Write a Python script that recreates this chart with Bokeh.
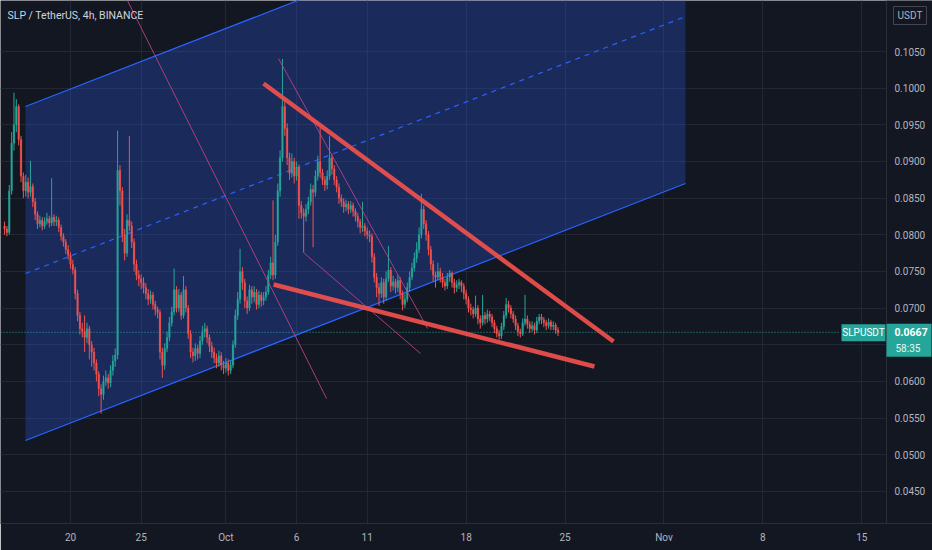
from bokeh.plotting import figure
from bokeh.models import Range1d, FixedTicker, Label, ColumnDataSource
from bokeh.core.properties import value
from bokeh.embed import file_html
from bokeh.resources import INLINE

# ---------------- data (prices in units of 0.0001 USDT) ----------------
# time axis: days since 2021-09-01 00:00; 4h candles
start_day = 14 + 8 / 24          # first candle: Sep 15, 08:00
bar_days = 4 / 24
first_open = 812
close = [808, 803, 860, 925, 950, 975, 930, 880, 860, 872,
         858, 866, 845, 828, 815, 820, 812, 818, 822, 816,
         824, 818, 820, 810, 798, 790, 780, 772, 760, 752,
         720, 690, 672, 668, 660, 672, 650, 640, 625, 610,
         590, 582, 600, 605, 598, 615, 628, 636, 888, 860,
         800, 775, 820, 812, 790, 760, 745, 740, 735, 728,
         720, 712, 718, 705, 698, 694, 640, 622, 645, 660,
         680, 695, 725, 700, 718, 690, 725, 700, 665, 640,
         635, 645, 638, 655, 668, 672, 660, 648, 640, 632,
         625, 635, 622, 618, 625, 615, 622, 650, 690, 712,
         750, 735, 710, 700, 725, 715, 722, 705, 718, 710,
         715, 722, 745, 762, 745, 790, 860, 905, 975, 945,
         905, 884, 900, 880, 892, 840, 830, 825, 835, 845,
         862, 858, 880, 900, 885, 875, 868, 880, 905, 890,
         875, 865, 850, 845, 838, 842, 835, 840, 832, 825,
         818, 810, 812, 805, 800, 798, 770, 742, 728, 720,
         735, 715, 740, 752, 730, 736, 728, 738, 720, 705,
         712, 728, 742, 755, 768, 780, 800, 835, 815, 800,
         780, 760, 745, 742, 750, 742, 735, 730, 742, 748,
         735, 728, 732, 735, 730, 720, 712, 700, 698, 692,
         700, 685, 680, 690, 685, 692, 688, 680, 672, 665,
         662, 675, 690, 705, 700, 692, 685, 676, 668, 665,
         680, 685, 678, 672, 676, 670, 682, 688, 684, 680,
         676, 681, 675, 677, 670, 667]
high = [818, 812, 868, 940, 994, 985, 978, 935, 885, 882,
        878, 901, 870, 850, 832, 826, 824, 824, 830, 826,
        877, 828, 826, 824, 814, 802, 794, 786, 776, 766,
        756, 725, 695, 680, 690, 680, 676, 655, 646, 630,
        614, 596, 608, 615, 610, 622, 636, 645, 942, 895,
        865, 808, 828, 935, 818, 795, 766, 752, 746, 742,
        734, 726, 724, 722, 710, 702, 698, 646, 652, 668,
        688, 702, 754, 730, 726, 722, 744, 730, 704, 670,
        646, 652, 650, 662, 676, 680, 676, 664, 654, 646,
        638, 642, 640, 628, 632, 630, 628, 656, 698, 722,
        781, 756, 740, 716, 732, 730, 730, 726, 724, 722,
        722, 730, 752, 770, 847, 800, 870, 915, 1040, 985,
        952, 912, 911, 905, 900, 896, 846, 836, 842, 852,
        870, 868, 888, 908, 946, 890, 880, 888, 935, 910,
        895, 880, 870, 855, 850, 848, 846, 846, 844, 836,
        830, 822, 845, 816, 810, 806, 802, 775, 748, 734,
        742, 740, 750, 785, 756, 744, 740, 745, 742, 724,
        720, 735, 750, 762, 776, 790, 810, 856, 840, 820,
        805, 785, 765, 750, 762, 755, 748, 740, 748, 752,
        750, 740, 738, 740, 738, 734, 725, 716, 706, 702,
        717, 704, 690, 718, 695, 698, 696, 692, 684, 676,
        670, 680, 696, 714, 710, 704, 696, 690, 680, 672,
        686, 718, 690, 682, 682, 680, 688, 692, 692, 688,
        684, 686, 684, 682, 680, 674]
low = [800, 798, 800, 855, 915, 940, 922, 872, 850, 852,
       850, 852, 838, 820, 808, 810, 806, 808, 814, 810,
       812, 812, 812, 804, 792, 784, 774, 766, 754, 746,
       712, 682, 664, 660, 640, 652, 630, 620, 615, 600,
       580, 556, 575, 594, 590, 592, 608, 620, 630, 840,
       790, 765, 770, 805, 782, 750, 738, 730, 726, 720,
       712, 704, 706, 698, 690, 686, 630, 605, 616, 640,
       655, 675, 690, 694, 695, 684, 686, 694, 658, 632,
       626, 628, 630, 632, 650, 660, 652, 640, 632, 625,
       618, 620, 615, 610, 612, 608, 610, 618, 646, 684,
       706, 725, 700, 692, 696, 706, 708, 698, 700, 702,
       704, 710, 718, 740, 738, 740, 785, 852, 900, 935,
       895, 875, 878, 870, 874, 822, 822, 776, 818, 828,
       840, 783, 852, 874, 878, 868, 860, 862, 875, 882,
       868, 858, 842, 838, 830, 832, 828, 830, 825, 818,
       810, 802, 804, 798, 794, 790, 762, 735, 715, 703,
       714, 706, 710, 736, 722, 724, 720, 722, 712, 697,
       700, 708, 722, 738, 750, 762, 775, 795, 808, 792,
       772, 752, 736, 728, 738, 735, 728, 724, 726, 736,
       728, 720, 722, 726, 722, 712, 705, 694, 690, 686,
       688, 678, 672, 676, 678, 680, 682, 674, 666, 660,
       657, 658, 670, 686, 694, 686, 680, 670, 662, 660,
       662, 676, 672, 666, 668, 664, 666, 678, 678, 674,
       670, 672, 670, 670, 665, 662]
price_unit = 1e-4
last_price = 0.0667
last_price_text = "0.0667"
countdown_text = "58:35"
symbol_text = "SLPUSDT"
currency_text = "USDT"
title_text = "SLP / TetherUS, 4h, BINANCE"

x_ticks = [19, 24, 30, 35, 40, 47, 54, 61, 68, 75]
x_labels = ["20", "25", "Oct", "6", "11", "18", "25", "Nov", "8", "15"]
y_ticks = [0.0450, 0.0500, 0.0550, 0.0600, 0.0650, 0.0700, 0.0750,
           0.0800, 0.0850, 0.0900, 0.0950, 0.1000, 0.1050]
y_labels = ["0.0450", "0.0500", "0.0550", "0.0600", "0.0650", "0.0700", "0.0750",
            "0.0800", "0.0850", "0.0900", "0.0950", "0.1000", "0.1050"]

# drawings (anchor points: day, price)
channel_x = [15.815, 62.52]
channel_upper = [0.09750, 0.13255]
channel_mid = [0.07472, 0.10977]
channel_lower = [0.05194, 0.08700]
wedge_upper_x, wedge_upper_y = [32.66, 57.43], [0.10064, 0.06544]
wedge_lower_x, wedge_lower_y = [33.37, 56.08], [0.07322, 0.06203]
trend_a_x, trend_a_y = [23.03, 37.12], [0.11196, 0.05767]
trend_b_x, trend_b_y = [33.72, 44.27], [0.10405, 0.06722]
trend_c_x, trend_c_y = [35.49, 43.77], [0.07758, 0.06381]

# ---------------- layout / style ----------------
BG = "#131722"
UP = "#26a69a"
DOWN = "#ef5350"
TEXT = "#b2b5be"
FONT = "Roboto"
W, H = 932, 550
FRAME_H = 523
x_lo, x_hi = 14.046, 80.005
y_lo, y_hi = 0.04062, 0.11196
day_per_px = (x_hi - x_lo) / W
price_per_px = (y_hi - y_lo) / FRAME_H
axis_x = x_lo + 886 * day_per_px            # left edge of the price scale


def px_x(px):
    return x_lo + px * day_per_px


def px_dy(px):
    return px * price_per_px


p = figure(width=W, height=H, x_range=Range1d(x_lo, x_hi), y_range=Range1d(y_lo, y_hi),
           output_backend="svg", toolbar_location=None, y_axis_location=None, min_border=0)
p.min_border_left = 0
p.min_border_top = 0
p.min_border_right = 0
p.min_border_bottom = H - FRAME_H
p.background_fill_color = BG
p.border_fill_color = BG
p.outline_line_color = None

xa = p.xaxis[0]
xa.ticker = FixedTicker(ticks=x_ticks)
xa.major_label_overrides = {t: l for t, l in zip(x_ticks, x_labels)}
xa.axis_line_color = "#2a2e39"
xa.major_tick_line_color = None
xa.minor_tick_line_color = None
xa.major_tick_out = 0
xa.major_tick_in = 0
xa.major_label_text_color = TEXT
xa.major_label_text_font = FONT
xa.major_label_text_font_size = "10px"
xa.major_label_standoff = 8
p.xgrid.grid_line_color = "#232733"
p.ygrid[0].ticker = FixedTicker(ticks=y_ticks)
p.ygrid.grid_line_color = "#232733"

# channel
p.patch(x=[channel_x[0], channel_x[1], channel_x[1], channel_x[0]],
        y=[channel_upper[0], channel_upper[1], channel_lower[1], channel_lower[0]],
        fill_color="#2962ff", fill_alpha=0.26, line_color=None)
p.line(channel_x, channel_upper, line_color="#2962ff", line_width=1.2)
p.line(channel_x, channel_lower, line_color="#2962ff", line_width=1.2)
p.line(channel_x, channel_mid, line_color="#2962ff", line_width=1.2, line_dash="5 5")

# current price dotted line
p.line([x_lo, px_x(840)], [last_price, last_price], line_color=UP, line_width=1, line_dash="1 2")

# candles
n = len(close)
opens = [first_open] + close[:-1]
xs = [start_day + i * bar_days for i in range(n)]
src = ColumnDataSource(dict(
    x=xs,
    top=[max(o, c) * price_unit for o, c in zip(opens, close)],
    bottom=[min(o, c) * price_unit for o, c in zip(opens, close)],
    high=[h * price_unit for h in high],
    low=[l * price_unit for l in low],
    color=[UP if c >= o else DOWN for o, c in zip(opens, close)],
))
p.segment(x0="x", y0="low", x1="x", y1="high", line_color="color", line_width=1, source=src)
p.vbar(x="x", width=bar_days * 0.7, top="top", bottom="bottom", fill_color="color",
       line_color="color", line_width=0.3, source=src)

# thin trend lines
for tx, ty in ((trend_a_x, trend_a_y), (trend_b_x, trend_b_y), (trend_c_x, trend_c_y)):
    p.line(tx, ty, line_color="#c0458a", line_width=1, line_alpha=0.85)

# wedge
p.line(wedge_upper_x, wedge_upper_y, line_color="#f0504c", line_width=4.5, line_alpha=0.92)
p.line(wedge_lower_x, wedge_lower_y, line_color="#f0504c", line_width=4.5, line_alpha=0.92)

# ---------------- price scale (right) ----------------
p.quad(left=axis_x, right=x_hi + 1, bottom=y_lo, top=y_hi, fill_color=BG, line_color=None)
p.line([axis_x, axis_x], [y_lo, y_hi], line_color="#2a2e39", line_width=1)
p.text(x=[px_x(894)] * len(y_ticks), y=y_ticks, text=y_labels, text_font=value(FONT),
       text_font_size="10px", text_color=TEXT, text_baseline="middle", text_align="left")

# currency box
usdt_y = y_hi - px_dy(15)
p.rect(x=px_x(909.5), y=usdt_y, width=33, height=18, width_units="screen", height_units="screen",
       fill_color=None, line_color="#434651", line_width=1)
p.text(x=[px_x(909.5)], y=[usdt_y], text=[currency_text], text_font=value(FONT),
       text_font_size="10px", text_color=TEXT, text_baseline="middle", text_align="center")

# symbol box
p.rect(x=px_x(863), y=last_price - px_dy(0.5), width=44, height=17, width_units="screen",
       height_units="screen", fill_color=UP, line_color=None)
p.text(x=[px_x(863)], y=[last_price], text=[symbol_text], text_font=value(FONT),
       text_font_size="10px", text_color="#ffffff", text_baseline="middle", text_align="center")

# last price box on the scale
p.rect(x=px_x(908.5), y=last_price - px_dy(8), width=45, height=33, width_units="screen",
       height_units="screen", fill_color=UP, line_color=None)
p.text(x=[px_x(894)], y=[last_price], text=[last_price_text], text_font=value(FONT),
       text_font_size="10.5px", text_font_style="bold", text_color="#ffffff",
       text_baseline="middle", text_align="left")
p.text(x=[px_x(895)], y=[last_price - px_dy(16)], text=[countdown_text], text_font=value(FONT),
       text_font_size="10px", text_color="#e8f5f3", text_baseline="middle", text_align="left")

# title
p.add_layout(Label(x=x_lo, y=y_hi, x_offset=7, y_offset=-15, text=title_text,
                   text_color="#d1d4dc", text_font=FONT, text_font_size="10.5px",
                   text_baseline="middle", text_align="left"))

open("out.html", "w").write(file_html(p, INLINE))
